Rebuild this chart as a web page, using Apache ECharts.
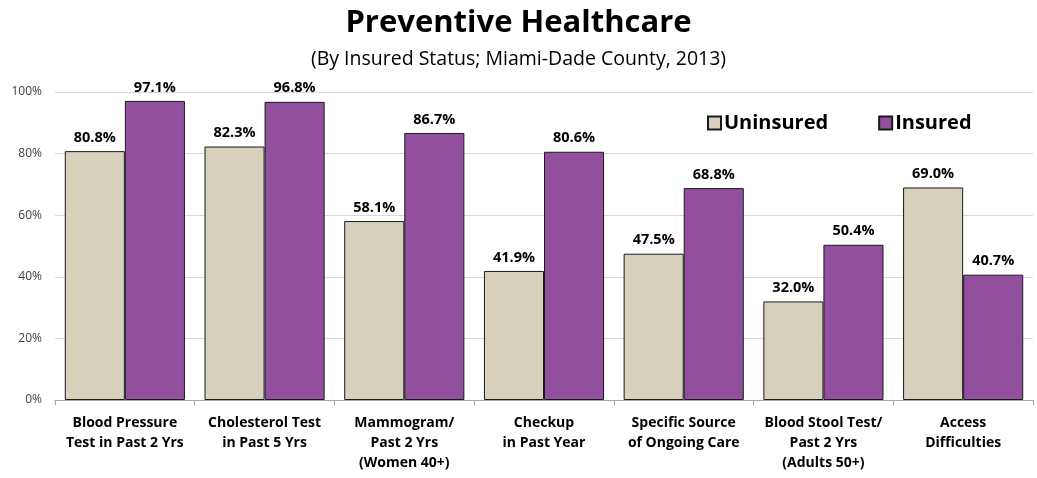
<!DOCTYPE html>
<html><head><meta charset="utf-8">
<script src="https://cdn.jsdelivr.net/npm/echarts@6/dist/echarts.min.js"></script>
<style>html,body{margin:0;padding:0;background:#fff}#c{width:1037px;height:478px}</style>
</head><body><div id="c"></div>
<script>
const categories = ["Blood Pressure\nTest in Past 2 Yrs","Cholesterol Test\nin Past 5 Yrs","Mammogram/\nPast 2 Yrs\n(Women 40+)","Checkup\nin Past Year","Specific Source\nof Ongoing Care","Blood Stool Test/\nPast 2 Yrs\n(Adults 50+)","Access\nDifficulties"];
const uninsured = [80.8, 82.3, 58.1, 41.9, 47.5, 32.0, 69.0];
const insured = [97.1, 96.8, 86.7, 80.6, 68.8, 50.4, 40.7];
const yTicks = [0, 20, 40, 60, 80, 100];

const chart = echarts.init(document.getElementById('c'));
const FONT = '"Open Sans", "Noto Sans", sans-serif';
const labelCfg = {show:true, position:'top', distance:6, fontFamily:FONT, fontWeight:'bold', fontSize:14.5, color:'#000', formatter: p => p.value.toFixed(1) + '%'};
chart.setOption({
  animation:false,
  title:[
    {text:'Preventive Healthcare', left:'center', top:3, textStyle:{fontFamily:FONT, fontWeight:'bold', fontSize:31, color:'#000'}},
    {text:'(By Insured Status; Miami-Dade County, 2013)', left:'center', top:44, textStyle:{fontFamily:FONT, fontWeight:'normal', fontSize:19.5, color:'#000'}}
  ],
  legend:{left:702, top:108, itemWidth:13, itemHeight:13, itemGap:50, icon:'rect',
    textStyle:{fontFamily:FONT, fontWeight:'bold', fontSize:20, color:'#000', padding:[0,0,0,-2]},
    data:['Uninsured','Insured']},
  grid:{left:55, right:4, top:92, bottom:78},
  xAxis:{type:'category', data:categories,
    axisLine:{lineStyle:{color:'#a6a6a6'}},
    axisTick:{show:true, length:5, lineStyle:{color:'#a6a6a6'}},
    axisLabel:{interval:0, fontFamily:FONT, fontWeight:'bold', fontSize:14, color:'#000', lineHeight:20, margin:13}},
  yAxis:{type:'value', min:0, max:100, interval:20,
    axisLabel:{fontFamily:FONT, fontSize:12, color:'#404040', margin:13, formatter: v => yTicks.includes(v) ? v + '%' : ''},
    axisLine:{show:false}, axisTick:{show:false},
    splitLine:{lineStyle:{color:'#d9d9d9'}}},
  series:[
    {name:'Uninsured', type:'bar', data:uninsured, barGap:'0%', barCategoryGap:'14%',
      itemStyle:{color:'#d6d0bc', borderColor:'#1a1a1a', borderWidth:1}, label:labelCfg},
    {name:'Insured', type:'bar', data:insured,
      itemStyle:{color:'#924f9e', borderColor:'#1a1a1a', borderWidth:1}, label:labelCfg}
  ]
});
</script></body></html>
